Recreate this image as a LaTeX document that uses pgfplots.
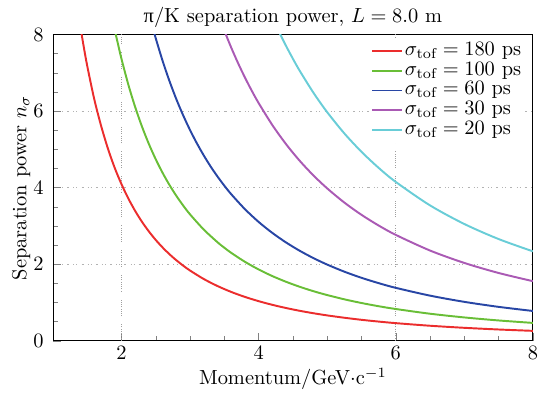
\documentclass[border=0pt]{standalone}
\usepackage{fontspec}
\usepackage{pgfplots}
\pgfplotsset{compat=1.18}
\newfontfamily\greekser{Liberation Serif}
\definecolor{colA}{RGB}{235,45,45}
\definecolor{colB}{RGB}{105,190,55}
\definecolor{colC}{RGB}{40,70,165}
\definecolor{colD}{RGB}{170,90,180}
\definecolor{colE}{RGB}{105,205,215}
\begin{document}
\begin{tikzpicture}
\begin{axis}[
  scale only axis,
  width=235pt, height=150pt,
  xmin=1, xmax=8, ymin=0, ymax=8,
  xtick={2,4,6,8}, ytick={0,2,4,6,8},
  minor x tick num=3, minor y tick num=3,
  tick pos=left,
  tick align=inside,
  major tick length=4pt, minor tick length=2.5pt,
  ymajorgrids=true,
  extra x ticks={2,6},
  extra x tick labels={},
  extra x tick style={xmajorgrids=true, major tick length=0pt,
    major grid style={gray!75, line width=0.4pt, dash pattern=on 0.4pt off 0.7pt on 0.4pt off 0.7pt on 0.4pt off 0.7pt on 0.4pt off 0.7pt on 0.4pt off 0.7pt on 0.4pt off 0.7pt on 0.4pt off 0.7pt on 0.4pt off 4pt}},
  major grid style={gray!60, line width=0.4pt, dash pattern=on 1pt off 2pt on 0.5pt off 1pt on 0.5pt off 2pt},
  title={{\greekser π}/K separation power, $L=8.0$ m},
  title style={yshift=-6pt},
  xlabel={Momentum/GeV$\cdot$c$^{-1}$},
  ylabel={Separation power $n_\sigma$},
  xlabel style={yshift=-0.5pt},
  ylabel style={yshift=-5.3pt},
  yticklabel style={xshift=-1pt},
  xticklabel style={inner sep=0.5pt, yshift=-1.8pt},
  legend style={at={(0.985,0.99)}, anchor=north east, draw=none, fill=white, inner sep=1pt, row sep=-1pt, font=\normalsize,
    nodes={inner sep=1pt, text height=6.5pt, text depth=2.2pt}},
  legend cell align=left,
  legend image code/.code={\draw[#1] plot coordinates {(0pt,0pt) (7pt,0pt) (14.5pt,0pt)};},
  every axis plot/.append style={line width=0.95pt, smooth, tension=0.5},
]
\addplot[colA] coordinates {(1.3,9.48)(1.35,8.81)(1.4,8.21)(1.45,7.67)(1.5,7.18)(1.6,6.33)(1.7,5.63)(1.8,5.03)(1.9,4.52)(2.0,4.09)(2.1,3.715)(2.2,3.389)(2.3,3.104)(2.4,2.854)(2.5,2.632)(2.6,2.436)(2.7,2.260)(2.8,2.103)(2.9,1.962)(3.0,1.834)(3.2,1.613)(3.4,1.430)(3.6,1.276)(3.8,1.146)(4.0,1.035)(4.2,0.939)(4.4,0.856)(4.6,0.783)(4.8,0.7195)(5.0,0.663)(5.25,0.602)(5.5,0.548)(5.75,0.502)(6.0,0.461)(6.5,0.393)(7.0,0.339)(7.5,0.295)(8.0,0.2595)};
\addlegendentry{$\sigma_{\mathrm{tof}}=180$ ps}
\addplot[colB] coordinates {(1.7,10.13)(1.8,9.06)(1.9,8.14)(1.95,7.74)(2.0,7.36)(2.1,6.687)(2.2,6.101)(2.3,5.588)(2.4,5.137)(2.5,4.738)(2.6,4.384)(2.7,4.068)(2.8,3.785)(2.9,3.531)(3.0,3.301)(3.2,2.904)(3.4,2.574)(3.5,2.430)(3.6,2.297)(3.8,2.063)(4.0,1.863)(4.2,1.690)(4.4,1.541)(4.6,1.410)(4.8,1.295)(5.0,1.194)(5.25,1.083)(5.5,0.987)(5.75,0.903)(6.0,0.830)(6.5,0.707)(7.0,0.610)(7.5,0.531)(8.0,0.467)};
\addlegendentry{$\sigma_{\mathrm{tof}}=100$ ps}
\addplot[colC] coordinates {(2.3,9.31)(2.4,8.56)(2.45,8.22)(2.5,7.897)(2.6,7.307)(2.7,6.781)(2.8,6.309)(2.9,5.885)(3.0,5.502)(3.1,5.155)(3.2,4.840)(3.3,4.552)(3.4,4.290)(3.5,4.050)(3.6,3.829)(3.8,3.438)(4.0,3.104)(4.2,2.817)(4.4,2.568)(4.6,2.350)(4.8,2.159)(5.0,1.990)(5.25,1.805)(5.5,1.645)(5.75,1.506)(6.0,1.383)(6.5,1.179)(7.0,1.017)(7.5,0.886)(8.0,0.779)};
\addlegendentry{$\sigma_{\mathrm{tof}}=60$ ps}
\addplot[colD] coordinates {(3.3,9.10)(3.4,8.58)(3.5,8.099)(3.6,7.658)(3.7,7.251)(3.8,6.876)(3.9,6.530)(4.0,6.209)(4.2,5.634)(4.4,5.135)(4.6,4.699)(4.8,4.317)(5.0,3.980)(5.25,3.610)(5.5,3.290)(5.75,3.011)(6.0,2.766)(6.5,2.357)(7.0,2.033)(7.5,1.771)(8.0,1.557)};
\addlegendentry{$\sigma_{\mathrm{tof}}=30$ ps}
\addplot[colE] coordinates {(4.1,8.87)(4.2,8.45)(4.3,8.06)(4.4,7.70)(4.5,7.365)(4.6,7.049)(4.8,6.476)(5.0,5.970)(5.25,5.416)(5.5,4.936)(5.75,4.517)(6.0,4.149)(6.5,3.536)(7.0,3.050)(7.5,2.657)(8.0,2.336)};
\addlegendentry{$\sigma_{\mathrm{tof}}=20$ ps}
\end{axis}
\path (current bounding box.west) ++(-2.5pt,0pt);
\end{tikzpicture}
\end{document}
